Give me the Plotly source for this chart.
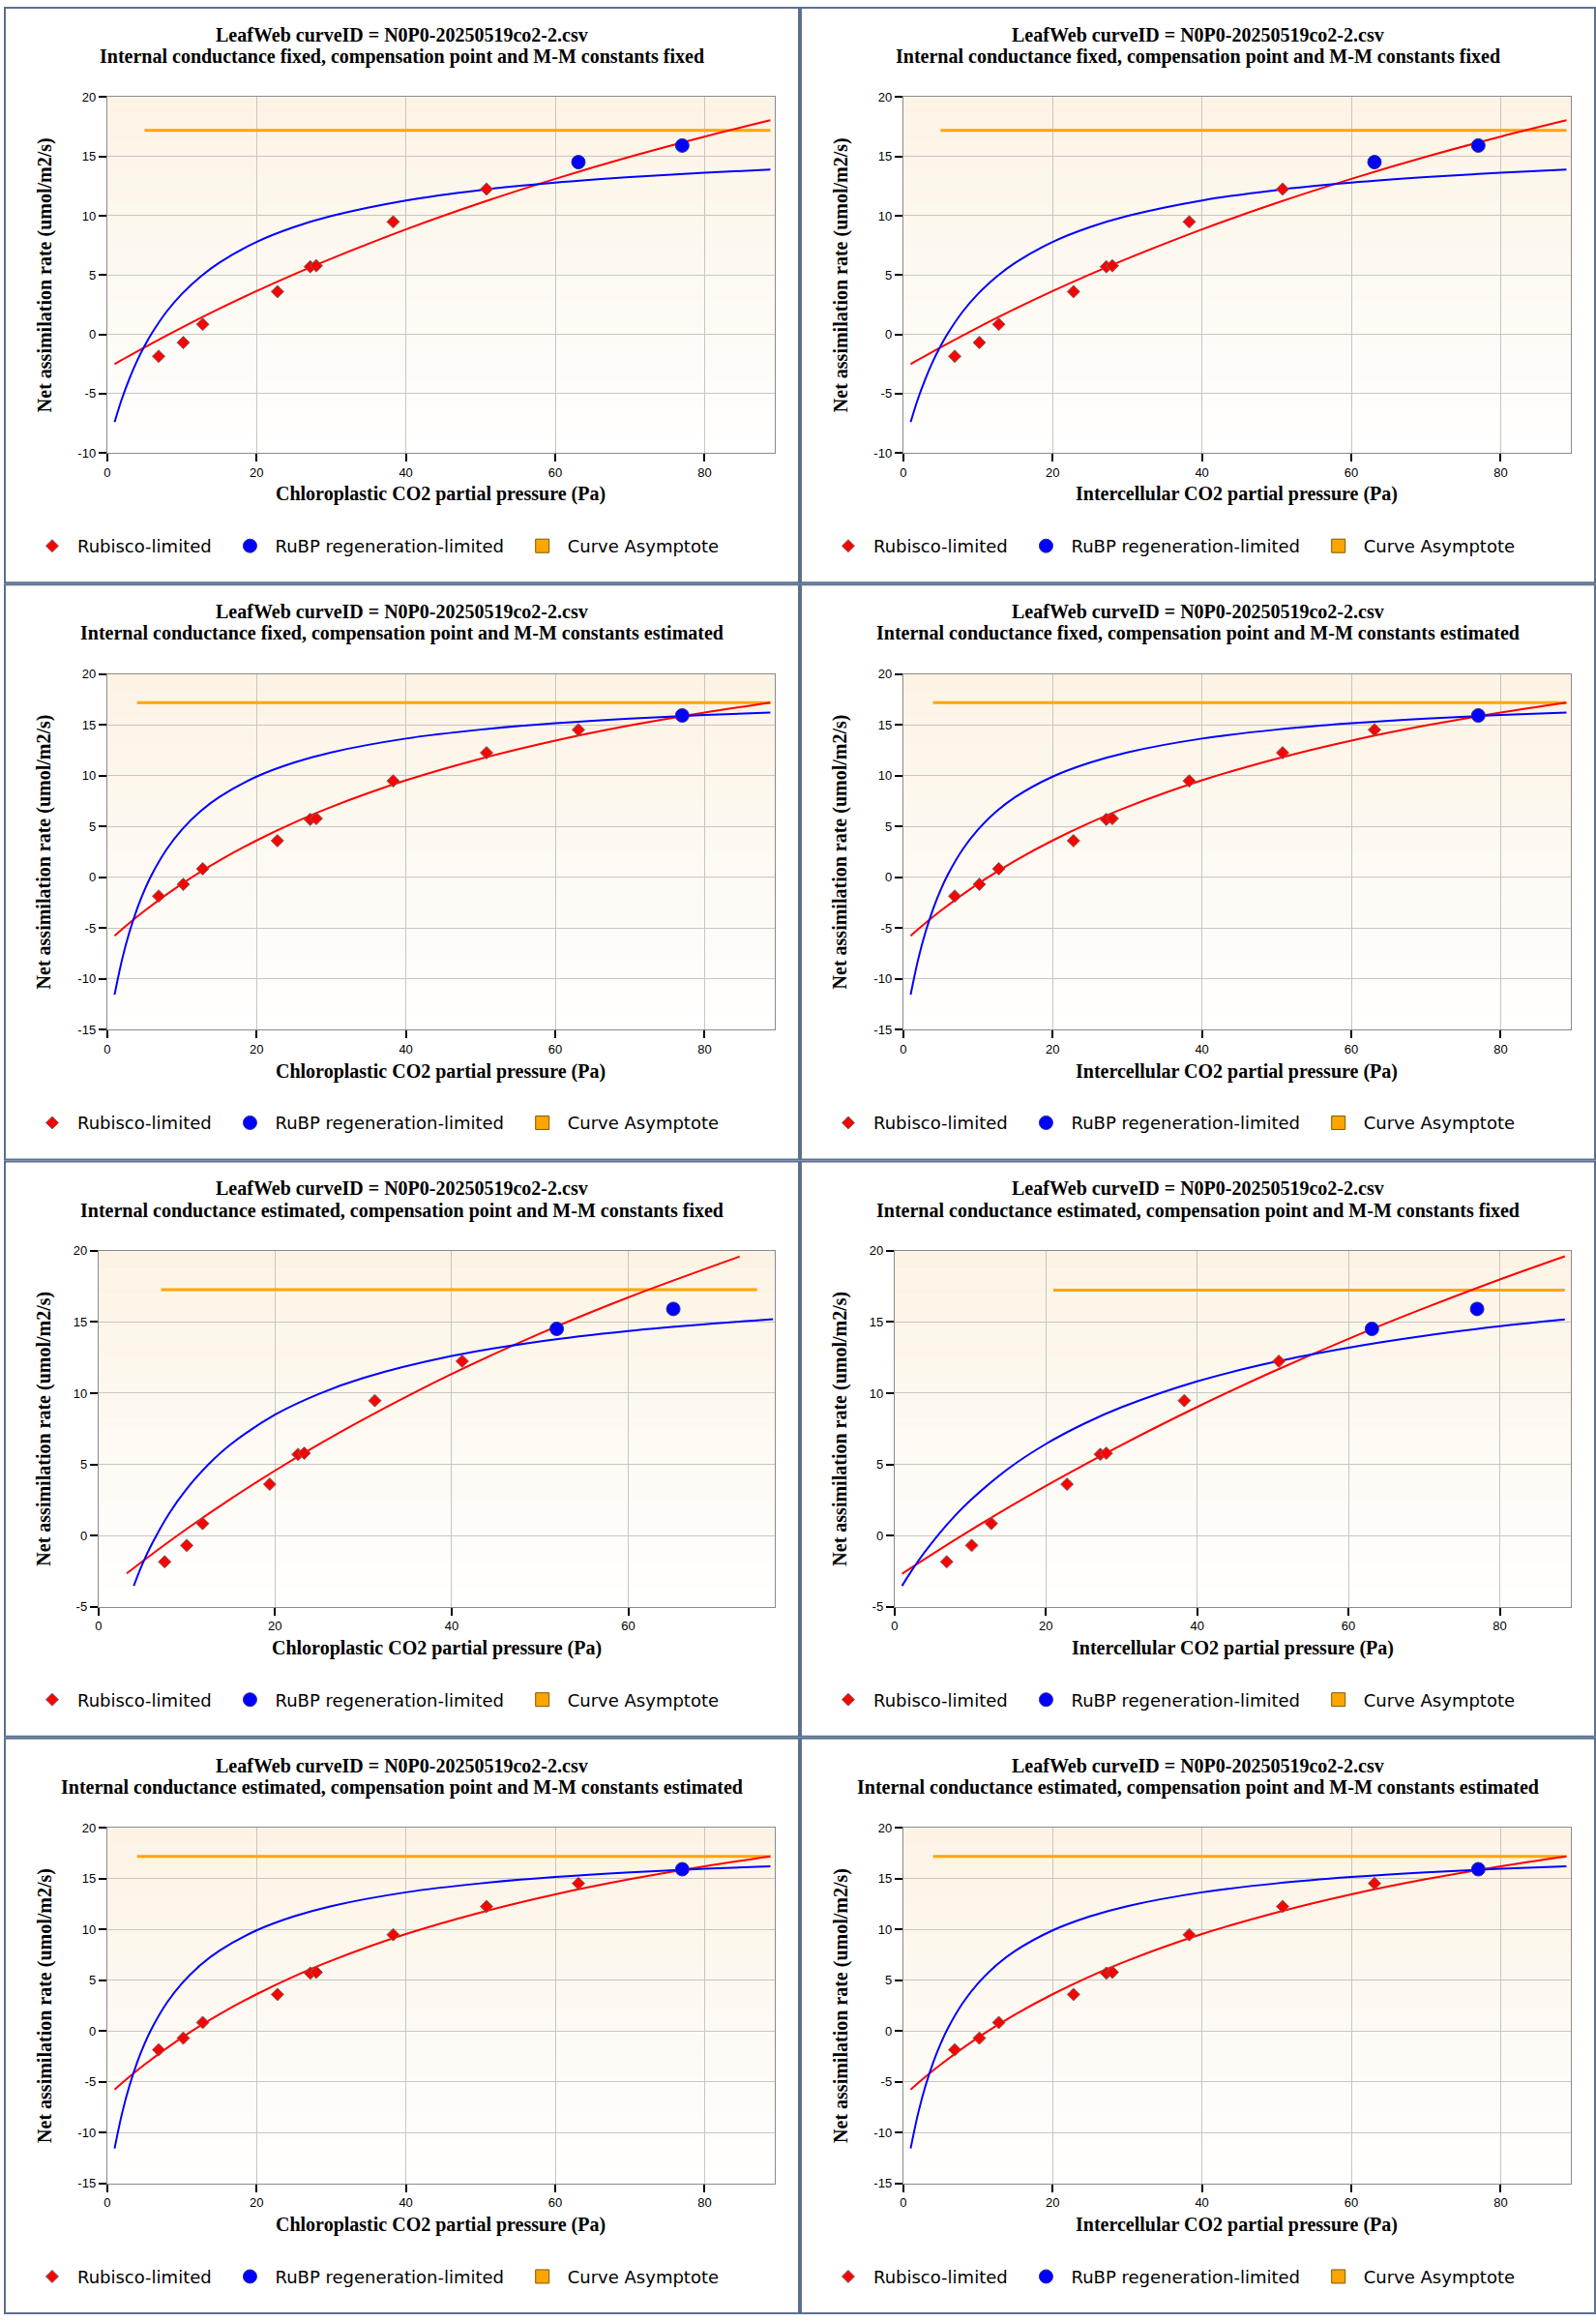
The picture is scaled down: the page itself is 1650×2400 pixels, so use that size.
import plotly.graph_objects as go

FIG_W, FIG_H = 1650, 2400
PANEL_W, PANEL_H = 825, 600

# observed gas exchange points (curve N0P0-20250519co2-2)
ci_obs = [6.9, 10.2, 12.8, 22.8, 27.2, 28.0, 38.3, 50.8, 63.1, 77.0]
cc_obs_gm_est = [7.5, 10.0, 11.8, 19.4, 22.6, 23.3, 31.3, 41.2, 51.9, 65.1]
a_obs = [-1.85, -0.7, 0.84, 3.6, 5.7, 5.78, 9.48, 12.25, 14.52, 15.92]

# fit 1: gm fixed, Gamma*/Kc/Ko fixed
f1_rub_x = [1, 2, 5, 10, 15, 20, 25, 30, 40, 50, 60, 70, 80, 88.8]
f1_rub_y = [-2.51, -2.15, -1.10, 0.57, 2.15, 3.64, 5.05, 6.38, 8.85, 11.08, 13.11, 14.97, 16.67, 18.05]
f1_rubp_x = [1, 2, 3, 4, 5, 6, 8, 10, 12.5, 15, 20, 25, 30, 40, 50, 60, 70, 80, 88.8]
f1_rubp_y = [-7.4, -5.40, -3.71, -2.25, -1.00, 0.10, 1.94, 3.40, 4.86, 6.03, 7.79, 9.04, 9.98, 11.29,
             12.17, 12.79, 13.26, 13.63, 13.89]
f1_asym_x = [5.0, 88.8]
f1_asym_y = [17.2, 17.2]

# fit 2: Gamma*/Kc/Ko estimated (gm fixed and gm estimated give the same curves)
f2_rub_x = [1, 2, 5, 10, 15, 20, 25, 30, 40, 50, 60, 70, 80, 88.8]
f2_rub_y = [-5.75, -5.11, -3.31, -0.65, 1.63, 3.62, 5.37, 6.92, 9.54, 11.67, 13.45, 14.94, 16.21, 17.19]
f2_rubp_x = [1, 2, 3, 4, 5, 6, 8, 10, 12.5, 15, 20, 25, 30, 40, 50, 60, 70, 80, 88.8]
f2_rubp_y = [-11.55, -8.10, -5.36, -3.12, -1.27, 0.29, 2.78, 4.68, 6.49, 7.89, 9.90, 11.28, 12.29, 13.65,
             14.53, 15.15, 15.61, 15.96, 16.21]
f2_asym_x = [4.0, 88.8]
f2_asym_y = [17.19, 17.19]

# fit 3: gm estimated, Gamma*/Kc/Ko fixed -- chloroplastic axis
f3cc_rub_x = [3.2, 5, 10, 15, 20, 25, 30, 40, 50, 60, 72.6]
f3cc_rub_y = [-2.67, -1.81, 0.46, 2.58, 4.56, 6.42, 8.16, 11.35, 14.19, 16.73, 19.6]
f3cc_rubp_x = [4.0, 5, 6, 8, 10, 12.5, 15, 20, 25, 30, 40, 50, 60, 70, 76.4]
f3cc_rubp_y = [-3.54, -1.98, -0.66, 1.54, 3.28, 5.02, 6.41, 8.49, 9.96, 11.07, 12.61, 13.64, 14.37, 14.91, 15.2]
f3cc_asym_x = [7.1, 74.6]
f3cc_asym_y = [17.27, 17.27]

# fit 3 -- intercellular axis
f3ci_rub_x = [1, 5, 10, 15, 20, 25, 30, 40, 50, 60, 70, 80, 88.6]
f3ci_rub_y = [-2.69, -1.31, 0.35, 1.95, 3.48, 4.95, 6.36, 9.03, 11.51, 13.82, 15.97, 17.99, 19.62]
f3ci_rubp_x = [1, 2, 3, 4, 6, 8, 10, 15, 20, 25, 30, 40, 50, 60, 70, 80, 88.6]
f3ci_rubp_y = [-3.54, -2.69, -1.90, -1.16, 0.19, 1.39, 2.45, 4.68, 6.43, 7.84, 9.01, 10.83, 12.17, 13.20,
               14.03, 14.70, 15.18]
f3ci_asym_x = [21.0, 88.6]
f3ci_asym_y = [17.24, 17.24]

title_top = "LeafWeb curveID = N0P0-20250519co2-2.csv"
subtitles = [
    "Internal conductance fixed, compensation point and M-M constants fixed",
    "Internal conductance fixed, compensation point and M-M constants estimated",
    "Internal conductance estimated, compensation point and M-M constants fixed",
    "Internal conductance estimated, compensation point and M-M constants estimated",
]
x_titles = ["Chloroplastic CO2 partial pressure (Pa)", "Intercellular CO2 partial pressure (Pa)"]
y_title = "Net assimilation rate (umol/m2/s)"
legend_names = ["Rubisco-limited", "RuBP regeneration-limited", "Curve Asymptote"]

x_tickvals = [0, 20, 40, 60, 80]
x_ticktext = ["0", "20", "40", "60", "80"]
y_tickvals = [-15, -10, -5, 0, 5, 10, 15, 20]
y_ticktext = ["-15", "-10", "-5", "0", "5", "10", "15", "20"]

fit1 = dict(rub=(f1_rub_x, f1_rub_y), rubp=(f1_rubp_x, f1_rubp_y), asym=(f1_asym_x, f1_asym_y))
fit2 = dict(rub=(f2_rub_x, f2_rub_y), rubp=(f2_rubp_x, f2_rubp_y), asym=(f2_asym_x, f2_asym_y))
fit3cc = dict(rub=(f3cc_rub_x, f3cc_rub_y), rubp=(f3cc_rubp_x, f3cc_rubp_y), asym=(f3cc_asym_x, f3cc_asym_y))
fit3ci = dict(rub=(f3ci_rub_x, f3ci_rub_y), rubp=(f3ci_rubp_x, f3ci_rubp_y), asym=(f3ci_asym_x, f3ci_asym_y))

# (row, col, fit, x of observations, number of rubisco-limited points, x max, y min)
panels = [
    (0, 0, fit1, ci_obs, 8, 89.4, -10),
    (0, 1, fit1, ci_obs, 8, 89.4, -10),
    (1, 0, fit2, ci_obs, 9, 89.4, -15),
    (1, 1, fit2, ci_obs, 9, 89.4, -15),
    (2, 0, fit3cc, cc_obs_gm_est, 8, 76.6, -5),
    (2, 1, fit3ci, ci_obs, 8, 89.4, -5),
    (3, 0, fit2, ci_obs, 9, 89.4, -15),
    (3, 1, fit2, ci_obs, 9, 89.4, -15),
]

RED, BLUE, ORANGE = "#ff0000", "#0000ff", "#ffa500"
BORDER = "#5b7090"
SERIF = "Liberation Serif"


def px_x(x):
    return x / FIG_W


def px_y(y):
    return 1 - y / FIG_H


fig = go.Figure()
shapes, annotations, layout_axes = [], [], {}
n_bands = 40
top_rgb, bot_rgb = (252, 243, 228), (255, 255, 255)

for i, (row, col, fit, xobs, n_rub, xmax, ymin) in enumerate(panels):
    k = i + 1
    ox, oy = col * PANEL_W, row * PANEL_H
    left = 98 if ymin > -10 else 107
    right, top, bottom = 799, 94, 464
    xa, ya = ("x", "y") if k == 1 else (f"x{k}", f"y{k}")
    xkey, ykey = ("xaxis", "yaxis") if k == 1 else (f"xaxis{k}", f"yaxis{k}")
    leg = ["legend" if k == 1 else f"legend{3 * i + 1}", f"legend{3 * i + 2}", f"legend{3 * i + 3}"]

    yt = [(v, t) for v, t in zip(y_tickvals, y_ticktext) if v >= ymin]
    common = dict(showline=True, linecolor="#8a8a8a", linewidth=1, mirror=True,
                  ticks="outside", ticklen=8, tickwidth=1.5, tickcolor="#000000",
                  gridcolor="#c9c5c0", gridwidth=1, zeroline=False,
                  tickfont=dict(family="Liberation Sans", size=13, color="#000000"))
    layout_axes[xkey] = dict(common, domain=[px_x(ox + left), px_x(ox + right)], range=[0, xmax],
                             tickvals=x_tickvals, ticktext=x_ticktext, anchor=ya)
    layout_axes[ykey] = dict(common, domain=[px_y(oy + bottom), px_y(oy + top)], range=[ymin, 20],
                             tickvals=[v for v, _ in yt], ticktext=[t for _, t in yt], anchor=xa)

    # cream-to-white vertical gradient of the plot area
    for b in range(n_bands):
        f = (b + 0.5) / n_bands
        c = tuple(round(bot_rgb[j] + (top_rgb[j] - bot_rgb[j]) * f) for j in range(3))
        shapes.append(dict(type="rect", xref=f"{xa} domain", yref=f"{ya} domain", x0=0, x1=1,
                           y0=b / n_bands, y1=(b + 1) / n_bands, fillcolor=f"rgb{c}",
                           line=dict(width=0), layer="below"))

    # panel frame
    shapes.append(dict(type="rect", xref="paper", yref="paper", x0=px_x(ox + 1), x1=px_x(ox + PANEL_W - 1),
                       y0=px_y(oy + PANEL_H - 1), y1=px_y(oy + 1), line=dict(color=BORDER, width=2)))

    ax, ay = fit["asym"]
    fig.add_trace(go.Scatter(x=ax, y=ay, mode="lines", line=dict(color=ORANGE, width=3),
                             xaxis=xa, yaxis=ya, showlegend=False, hoverinfo="skip"))
    rx, ry = fit["rub"]
    fig.add_trace(go.Scatter(x=rx, y=ry, mode="lines", line=dict(color=RED, width=2, shape="spline"),
                             xaxis=xa, yaxis=ya, showlegend=False))
    bx, by = fit["rubp"]
    fig.add_trace(go.Scatter(x=bx, y=by, mode="lines", line=dict(color=BLUE, width=2, shape="spline"),
                             xaxis=xa, yaxis=ya, showlegend=False))
    fig.add_trace(go.Scatter(x=xobs[:n_rub], y=a_obs[:n_rub], mode="markers", name=legend_names[0],
                             marker=dict(symbol="diamond", size=10, color=RED, line=dict(color="#6a6a6a", width=1)),
                             xaxis=xa, yaxis=ya, legend=leg[0]))
    fig.add_trace(go.Scatter(x=xobs[n_rub:], y=a_obs[n_rub:], mode="markers", name=legend_names[1],
                             marker=dict(symbol="circle", size=14, color=BLUE, line=dict(color="#2a2a9a", width=1)),
                             xaxis=xa, yaxis=ya, legend=leg[1]))
    fig.add_trace(go.Scatter(x=[None], y=[None], mode="markers", name=legend_names[2],
                             marker=dict(symbol="square", size=14, color=ORANGE, line=dict(color="#7a5a00", width=1)),
                             xaxis=xa, yaxis=ya, legend=leg[2]))

    for j, lx in enumerate([24, 229, 532]):
        layout_axes[leg[j]] = dict(x=px_x(ox + lx), y=px_y(oy + 561), xanchor="left", yanchor="middle",
                                   bgcolor="rgba(0,0,0,0)", borderwidth=0, itemwidth=42,
                                   font=dict(family="DejaVu Sans", size=18, color="#000000"))

    cx = ox + (left + right) / 2
    annotations += [
        dict(text=f"<b>{title_top}</b>", x=px_x(ox + 412.5), y=px_y(oy + 29)),
        dict(text=f"<b>{subtitles[row]}</b>", x=px_x(ox + 412.5), y=px_y(oy + 52)),
        dict(text=f"<b>{x_titles[col]}</b>", x=px_x(cx), y=px_y(oy + 507)),
        dict(text=f"<b>{y_title}</b>", x=px_x(ox + 42), y=px_y(oy + (top + bottom) / 2), textangle=-90),
    ]

for a in annotations:
    a.update(xref="paper", yref="paper", showarrow=False, xanchor="center", yanchor="middle",
             font=dict(family=SERIF, size=20, color="#000000"))

fig.update_layout(width=FIG_W, height=FIG_H, margin=dict(l=0, r=0, t=0, b=0),
                  paper_bgcolor="white", plot_bgcolor="white",
                  shapes=shapes, annotations=annotations, **layout_axes)

# drop the default page margin so the 1650x2400 figure fills the window exactly
fig.write_html("out.html", config={"displayModeBar": False},
               post_script="document.body.style.margin='0';")
